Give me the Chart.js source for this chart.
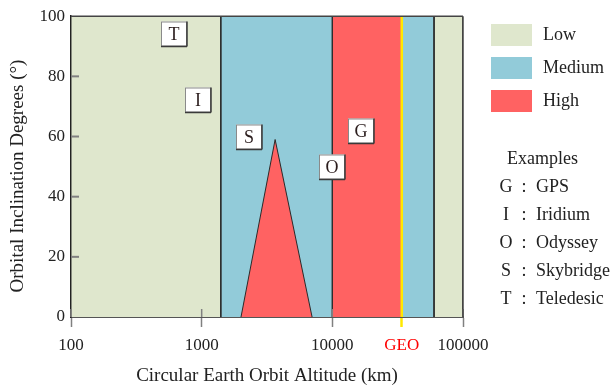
<!DOCTYPE html>
<html>
<head>
<meta charset="utf-8">
<script src="https://cdn.jsdelivr.net/npm/chart.js@4/dist/chart.umd.min.js"></script>
<style>
  html, body { margin: 0; padding: 0; background: #ffffff; }
  #wrap { width: 612px; height: 387px; }
</style>
</head>
<body>
<div id="wrap"><canvas id="c" width="612" height="387"></canvas></div>
<script>
// Interference classes and their fill colours
const classNames = ['Low', 'Medium', 'High'];
const classColors = ['#dfe7cd', '#92cbd9', '#ff6262'];

// Altitude bands along the x axis (km)
const bandStarts = [100, 1400, 10000, 34000, 60000];
const bandEnds = [1400, 10000, 34000, 60000, 100000];
const bandClass = ['Low', 'Medium', 'High', 'Medium', 'Low'];

// Geostationary altitude marker
const geoAltitude = 34000;

// High-interference wedge inside the medium band
const wedgeX = [2000, 3650, 7000];
const wedgeY = [0, 59, 0];

// Example constellations: key letter, name, label position (altitude, inclination)
const exampleKeys = ['G', 'I', 'O', 'S', 'T'];
const exampleNames = ['GPS', 'Iridium', 'Odyssey', 'Skybridge', 'Teledesic'];
const markerX = [16600, 940, 10000, 2320, 617];
const markerY = [62, 72, 50, 60, 94];

// Axis ticks
const xTicks = [100, 1000, 10000, geoAltitude, 100000];
const yTicks = [0, 20, 40, 60, 80, 100];

const FONT = '"Liberation Serif", "Times New Roman", serif';
const colorOf = name => classColors[classNames.indexOf(name)];

const datasets = [];
bandStarts.forEach((s, i) => {
  datasets.push({
    label: bandClass[i],
    data: [{x: s, y: 0}, {x: s, y: 100}, {x: bandEnds[i], y: 100}, {x: bandEnds[i], y: 0}],
    showLine: true,
    fill: 'origin',
    backgroundColor: colorOf(bandClass[i]),
    borderColor: '#2e2e2e',
    borderWidth: 1,
    pointRadius: 0,
    order: 3
  });
});
datasets.push({
  label: 'High',
  data: wedgeX.map((x, i) => ({x, y: wedgeY[i]})),
  showLine: true,
  fill: 'origin',
  backgroundColor: colorOf('High'),
  borderColor: '#2a2a2a',
  borderWidth: 1,
  pointRadius: 0,
  order: 2
});
datasets.push({
  label: 'GEO',
  data: [{x: geoAltitude, y: 0}, {x: geoAltitude, y: 100}],
  showLine: true,
  fill: false,
  borderColor: '#ffe800',
  borderWidth: 2.5,
  pointRadius: 0,
  order: 1
});

const decor = {
  id: 'decor',
  afterDatasetsDraw(chart) {
    const {ctx, chartArea: a, scales: {x, y}} = chart;
    ctx.save();
    const seg = (x1, y1, x2, y2) => { ctx.beginPath(); ctx.moveTo(x1, y1); ctx.lineTo(x2, y2); ctx.stroke(); };

    // inward tick marks
    ctx.strokeStyle = '#808080';
    ctx.lineWidth = 2;
    yTicks.forEach(v => {
      if (v > 0 && v < 100) { const py = y.getPixelForValue(v); seg(a.left, py, a.left + 8, py); }
    });
    ctx.lineWidth = 1.5;
    xTicks.forEach(v => {
      if (v !== geoAltitude) { const px = x.getPixelForValue(v); seg(px, a.bottom - 8, px, a.bottom); }
    });

    // plot frame (top and right)
    ctx.strokeStyle = '#444';
    ctx.lineWidth = 1.5;
    seg(a.left, a.top, a.right, a.top);
    seg(a.right, a.top, a.right, a.bottom);

    // constellation label boxes
    ctx.font = '18px ' + FONT;
    ctx.textAlign = 'center';
    ctx.textBaseline = 'middle';
    exampleKeys.forEach((k, i) => {
      const cx = Math.round(x.getPixelForValue(markerX[i]));
      const cy = Math.round(y.getPixelForValue(markerY[i]));
      const w = 26, h = 25;
      ctx.fillStyle = '#ffffff';
      ctx.fillRect(cx - w / 2, cy - h / 2, w, h);
      ctx.strokeStyle = '#8a8a8a';
      ctx.lineWidth = 1;
      ctx.strokeRect(cx - w / 2 + 0.5, cy - h / 2 + 0.5, w - 1, h - 1);
      ctx.strokeStyle = '#3a3a3a';
      ctx.lineWidth = 1.5;
      seg(cx + w / 2, cy - h / 2, cx + w / 2, cy + h / 2);
      seg(cx - w / 2, cy + h / 2, cx + w / 2, cy + h / 2);
      ctx.fillStyle = '#2a1c1c';
      ctx.fillText(k, cx, cy + 1);
    });
    ctx.restore();
  },
  afterDraw(chart) {
    const {ctx} = chart;
    ctx.save();

    // y axis title
    ctx.font = '19px ' + FONT;
    ctx.fillStyle = '#222';
    ctx.textAlign = 'center';
    ctx.textBaseline = 'middle';
    ctx.translate(18, 176);
    ctx.rotate(-Math.PI / 2);
    ctx.fillText('Orbital Inclination Degrees (°)', 0, 0);
    ctx.setTransform(1, 0, 0, 1, 0, 0);

    // class legend
    ctx.font = '18px ' + FONT;
    ctx.textAlign = 'left';
    classNames.forEach((n, i) => {
      const top = 24 + i * 33;
      ctx.fillStyle = classColors[i];
      ctx.fillRect(491, top, 41, 22);
      ctx.fillStyle = '#222';
      ctx.fillText(n, 543, top + 11);
    });

    // examples key
    ctx.fillText('Examples', 507, 159);
    exampleKeys.forEach((k, i) => {
      const cy = 187 + i * 28;
      ctx.textAlign = 'center';
      ctx.fillText(k, 506, cy);
      ctx.fillText(':', 524, cy);
      ctx.textAlign = 'left';
      ctx.fillText(exampleNames[i], 536, cy);
    });
    ctx.restore();
  }
};

new Chart(document.getElementById('c'), {
  type: 'scatter',
  data: { datasets },
  options: {
    responsive: false,
    animation: false,
    events: [],
    layout: { padding: { left: 0, right: 149, top: 13, bottom: 0 } },
    plugins: { legend: { display: false }, tooltip: { enabled: false } },
    scales: {
      x: {
        type: 'logarithmic',
        min: 100,
        max: 100000,
        afterBuildTicks: s => { s.ticks = xTicks.map(v => ({value: v})); },
        afterFit: s => { s.height = 70; },
        ticks: {
          autoSkip: false,
          maxRotation: 0,
          padding: 8,
          font: { family: FONT, size: 17 },
          color: c => (c.tick && c.tick.value === geoAltitude) ? '#ff0000' : '#222',
          callback: v => v === geoAltitude ? 'GEO' : String(v)
        },
        grid: {
          drawOnChartArea: false,
          tickLength: 10,
          tickColor: c => (c.tick && c.tick.value === geoAltitude) ? '#ffe800' : '#808080',
          tickWidth: c => (c.tick && c.tick.value === geoAltitude) ? 2.5 : 1.5
        },
        border: { color: '#555', width: 2 },
        title: {
          display: true,
          text: 'Circular Earth Orbit Altitude (km)',
          font: { family: FONT, size: 19 },
          color: '#222',
          padding: { top: 0, bottom: 0 }
        }
      },
      y: {
        min: 0,
        max: 100,
        afterBuildTicks: s => { s.ticks = yTicks.map(v => ({value: v})); },
        afterFit: s => { s.width = 71; },
        ticks: { padding: 6, font: { family: FONT, size: 17 }, color: '#222' },
        grid: { drawOnChartArea: false, drawTicks: false },
        border: { color: '#222', width: 1.5 }
      }
    }
  },
  plugins: [decor]
});
</script>
</body>
</html>
